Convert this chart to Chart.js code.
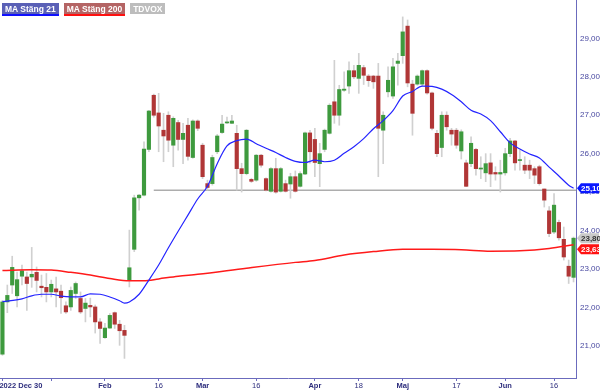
<!DOCTYPE html>
<html>
<head>
<meta charset="utf-8">
<script src="https://cdn.jsdelivr.net/npm/chart.js@4.4.0/dist/chart.umd.min.js"></script>
<style>
html, body { margin: 0; padding: 0; background: #fff; }
#wrap { position: relative; width: 600px; height: 390px; }
#legend { position: absolute; left: 2px; top: 3px; font: bold 8.5px "Liberation Sans", Arial, sans-serif; white-space: nowrap; }
#legend span { display: inline-block; color: #fff; padding: 1px 3px 0 3px; margin-right: 5px; line-height: 10px; }
</style>
</head>
<body>
<div id="wrap">
  <canvas id="chart" width="600" height="390"></canvas>
  <div id="legend">
    <span style="background:#5a60b6;border-bottom:2px solid #1010ff">MA Stäng 21</span><span style="background:#b46464;border-bottom:2px solid #ff1010">MA Stäng 200</span><span style="background:#bdbdbd">TDVOX</span>
  </div>
</div>
<script>
// daily candles, 2022-12-30 .. 2023-06-22 (trading days)
const opens = [20.78,22.14,22.58,22.30,22.81,22.79,22.79,22.91,22.55,22.52,22.40,22.48,22.42,22.04,22.01,22.36,22.23,21.97,22.05,22.01,
  21.62,21.21,21.46,21.86,21.56,21.40,22.71,23.51,24.85,24.92,26.11,27.52,27.06,26.61,27.00,26.22,26.81,26.37,26.74,25.90,
  26.85,26.22,25.22,25.22,26.05,26.55,26.80,26.79,26.53,25.61,25.48,25.33,25.31,25.96,25.35,25.02,25.61,25.02,25.22,25.21,
  25.40,25.15,25.47,26.54,26.37,25.74,26.11,26.53,27.35,27.00,27.65,27.76,28.16,27.96,28.24,28.02,28.02,28.02,26.61,27.61,
  27.50,28.35,28.55,29.32,27.81,27.81,27.81,28.16,27.58,26.53,26.16,27.00,26.61,26.61,26.07,25.76,25.74,26.11,25.60,25.50,
  25.76,25.51,25.47,25.50,26.00,26.33,25.82,25.70,25.70,25.61,25.66,25.08,24.51,23.96,24.21,23.77,23.07,22.78];
const highs = [22.18,22.58,23.33,22.92,23.10,22.92,23.56,23.05,22.84,22.88,22.71,22.79,22.58,22.14,22.53,22.66,22.40,22.23,22.24,22.06,
  21.71,21.58,21.84,21.88,21.66,21.53,24.01,24.92,24.94,26.31,27.13,27.55,27.57,27.05,27.09,26.96,26.87,26.79,26.92,26.88,
  26.88,26.27,25.31,25.96,26.50,27.00,26.95,27.00,26.74,25.75,26.63,25.36,25.98,25.98,25.37,25.64,25.88,25.64,25.31,25.49,
  25.55,25.53,26.56,26.61,26.66,26.27,26.64,27.30,28.43,27.78,28.13,28.39,28.30,28.61,28.30,28.06,28.04,28.35,27.09,28.26,
  28.48,28.61,29.56,29.48,27.91,28.05,28.18,28.18,27.60,26.61,27.09,27.09,26.66,26.66,26.62,25.83,26.44,26.14,25.92,26.00,
  26.00,25.66,25.83,26.14,26.40,26.35,26.09,25.92,25.83,25.66,25.70,25.08,24.62,24.96,24.27,24.09,23.23,23.83];
const lows = [20.75,21.86,22.36,22.01,22.58,21.92,22.52,22.40,22.27,22.14,22.27,22.01,21.84,21.84,21.92,22.23,21.84,21.62,21.75,21.33,
  21.06,21.19,21.45,21.45,21.01,20.67,22.53,23.45,24.53,24.90,26.05,26.95,26.05,25.79,26.05,25.66,26.09,25.74,25.83,25.88,
  26.60,25.35,25.05,25.18,26.00,26.53,26.78,26.78,25.05,25.00,25.45,25.25,25.28,25.65,25.03,25.00,24.97,25.00,25.00,24.84,
  25.00,25.13,25.45,25.75,25.40,25.14,26.05,26.51,26.79,26.74,27.62,27.57,27.95,27.57,27.80,27.75,27.70,25.40,25.74,27.48,
  27.44,27.78,28.35,27.74,26.48,27.78,27.76,27.55,26.62,25.92,25.92,26.61,26.22,26.14,25.86,25.14,25.66,25.44,25.35,25.27,
  25.14,25.31,25.00,25.44,25.92,25.57,25.57,25.48,25.35,25.22,25.18,24.61,23.84,23.92,23.75,23.23,22.62,22.66];
const closes = [22.14,22.31,23.04,22.72,22.95,22.62,22.86,22.70,22.51,22.40,22.60,22.40,22.25,21.88,22.44,22.62,21.88,22.11,22.01,21.62,
  21.45,21.46,21.79,21.56,21.39,21.27,23.03,24.85,24.92,26.12,27.11,27.00,26.72,26.46,26.35,26.92,26.37,26.53,25.93,26.85,
  26.66,25.40,25.12,25.90,26.46,26.77,26.82,26.85,25.61,25.48,26.61,25.28,25.96,25.70,25.05,25.61,25.00,25.61,25.02,25.40,
  25.02,25.48,26.54,26.05,25.77,26.00,26.61,27.26,27.00,27.67,27.68,28.16,28.00,28.30,28.04,27.90,27.87,26.66,27.00,27.91,
  28.26,28.41,29.17,27.84,27.05,28.02,28.16,27.58,26.66,26.00,27.00,26.70,26.51,26.22,26.57,25.15,26.27,25.61,25.62,25.74,
  25.47,25.47,25.51,26.00,26.33,25.76,25.84,25.57,25.57,25.44,25.22,24.79,23.92,24.66,23.81,23.31,22.81,23.80];

// moving averages at these candle indexes
const ma21Idx = [0,4,6,8,10,12,14,16,18,20,22,24,25,26,28,30,32,34,36,38,40,42,44,46,48,50,52,54,56,58,60,62,64,66,68,70,
  72,74,76,78,80,82,84,86,88,90,92,94,96,98,100,102,104,106,108,110,112,114,116,117];
const ma21Val = [22.15,22.22,22.30,22.34,22.34,22.29,22.27,22.27,22.35,22.34,22.27,22.17,22.11,22.14,22.34,22.71,23.10,23.55,23.98,24.40,
  24.82,25.15,25.74,26.20,26.34,26.38,26.26,26.14,26.03,25.90,25.80,25.77,25.83,25.79,25.83,26.01,26.18,26.39,26.65,26.86,
  27.12,27.50,27.62,27.76,27.75,27.68,27.54,27.35,27.13,27.03,26.86,26.57,26.28,26.12,25.99,25.89,25.65,25.42,25.18,25.10];
const ma200Idx = [0,6,10,14,18,22,26,29,32,36,40,50,60,64,70,76,82,88,94,100,106,112,117];
const ma200Val = [22.96,22.98,22.97,22.91,22.84,22.75,22.69,22.69,22.74,22.81,22.86,23.02,23.17,23.22,23.36,23.45,23.51,23.51,23.50,23.46,23.47,23.53,23.63];

// horizontal support line
const supportLevel = 25.05;
const supportFrom = 31;

// x axis tick labels (candle index, text, bold)
const xTickIdx = [0, 10, 21, 32, 41, 52, 64, 73, 82, 93, 103, 113];
const xTickText = ['2022 Dec 30', '', 'Feb', '16', 'Mar', '16', 'Apr', '18', 'Maj', '17', 'Jun', '16'];
const xTickBold = [true, false, true, false, true, false, true, false, true, false, true, false];

// y axis labelled values
const yTicks = [21, 22, 23, 24, 25, 26, 27, 28, 29];

// last-value tags on the right axis
const tagValues = [25.10, 23.80, 23.63];
const tagBg = ['#0a18ff', '#c9c9c9', '#ff1212'];
const tagFg = ['#ffffff', '#333333', '#ffffff'];

const FONT = '"Liberation Sans", Arial, sans-serif';
const fmt = v => v.toFixed(2).replace('.', ',');

const labels = opens.map((_, i) => i);
const bodies = opens.map((o, i) => [o, closes[i]]);
const wicks = lows.map((l, i) => [l, highs[i]]);
const bodyColors = opens.map((o, i) => closes[i] >= o ? '#3e9a3e' : '#b03636');

function sparse(idx, vals) {
  const out = labels.map(() => null);
  idx.forEach((k, j) => { out[k] = vals[j]; });
  return out;
}

const supportPlugin = {
  id: 'support',
  beforeDatasetsDraw(chart) {
    const { ctx, chartArea, scales: { x, y } } = chart;
    const py = y.getPixelForValue(supportLevel);
    ctx.save();
    ctx.strokeStyle = '#adadad';
    ctx.lineWidth = 1.5;
    ctx.beginPath();
    ctx.moveTo(x.getPixelForValue(supportFrom), py);
    ctx.lineTo(chartArea.right, py);
    ctx.stroke();
    ctx.restore();
  }
};

const axisLabelsPlugin = {
  id: 'axisLabels',
  afterDraw(chart) {
    const { ctx, chartArea, scales: { x } } = chart;
    ctx.save();
    ctx.fillStyle = '#2d2d7d';
    ctx.textBaseline = 'middle';
    xTickIdx.forEach((k, j) => {
      if (!xTickText[j]) return;
      const px = x.getPixelForValue(k);
      ctx.font = (xTickBold[j] ? 'bold ' : '') + '7.5px ' + FONT;
      ctx.textAlign = k === 0 ? 'left' : 'center';
      ctx.fillText(xTickText[j], k === 0 ? px - 3 : px, chartArea.bottom + 8);
    });
    ctx.restore();
  }
};

const tagsPlugin = {
  id: 'tags',
  afterDraw(chart) {
    const { ctx, chartArea, scales: { y } } = chart;
    const items = tagValues.map((v, j) => ({ v, j, py: y.getPixelForValue(v) }))
      .sort((a, b) => a.py - b.py);
    let prev = -Infinity;
    const x0 = chartArea.right + 1, x1 = 599, h = 5;
    ctx.save();
    ctx.font = 'bold 8px ' + FONT;
    ctx.textBaseline = 'middle';
    ctx.textAlign = 'left';
    items.forEach(t => {
      if (t.py - prev < 11) t.py = prev + 11;
      prev = t.py;
      ctx.fillStyle = tagBg[t.j];
      ctx.beginPath();
      ctx.moveTo(x0, t.py);
      ctx.lineTo(x0 + 4, t.py - h);
      ctx.lineTo(x1, t.py - h);
      ctx.lineTo(x1, t.py + h);
      ctx.lineTo(x0 + 4, t.py + h);
      ctx.closePath();
      ctx.fill();
      ctx.fillStyle = tagFg[t.j];
      ctx.fillText(fmt(t.v), x0 + 4, t.py + 0.5);
    });
    ctx.restore();
  }
};

new Chart(document.getElementById('chart'), {
  type: 'bar',
  data: {
    labels: labels,
    datasets: [
      {
        type: 'line', label: 'MA Stäng 21', data: sparse(ma21Idx, ma21Val),
        borderColor: '#2424ff', borderWidth: 1.2, pointRadius: 0, spanGaps: true,
        cubicInterpolationMode: 'monotone', order: 0
      },
      {
        type: 'line', label: 'MA Stäng 200', data: sparse(ma200Idx, ma200Val),
        borderColor: '#ff1a1a', borderWidth: 1.5, pointRadius: 0, spanGaps: true,
        cubicInterpolationMode: 'monotone', order: 1
      },
      {
        label: 'TDVOX', data: bodies, backgroundColor: bodyColors,
        barThickness: 3.5, minBarLength: 1, grouped: false, order: 2
      },
      {
        label: 'wick', data: wicks, backgroundColor: '#d0d0d0',
        barThickness: 1, grouped: false, order: 3
      }
    ]
  },
  options: {
    responsive: false,
    animation: false,
    layout: { padding: 0 },
    plugins: { legend: { display: false }, tooltip: { enabled: false } },
    scales: {
      x: {
        offset: true,
        ticks: { display: false },
        grid: {
          display: true, drawOnChartArea: false, offset: false, tickLength: 3,
          color: c => xTickIdx.includes(c.index) ? '#6b6bbd' : 'rgba(0,0,0,0)'
        },
        border: { color: '#6b6bbd' },
        afterFit: s => { s.height = 12; s.paddingLeft = 0; s.paddingRight = 0; }
      },
      y: {
        position: 'right',
        min: 20.16,
        max: 30.0,
        grid: { display: false, drawTicks: false, tickLength: 0 },
        border: { color: '#6b6bbd' },
        afterBuildTicks: s => { s.ticks = yTicks.map(v => ({ value: v })); },
        ticks: {
          padding: 4, color: '#4848a0',
          font: { size: 8, family: FONT },
          callback: v => fmt(v)
        },
        afterFit: s => { s.width = 24; s.paddingTop = 0; s.paddingBottom = 0; }
      }
    }
  },
  plugins: [supportPlugin, axisLabelsPlugin, tagsPlugin]
});
</script>
</body>
</html>
